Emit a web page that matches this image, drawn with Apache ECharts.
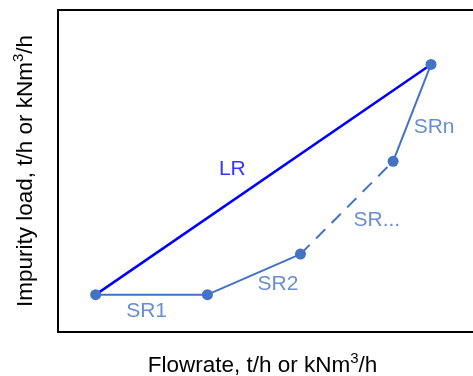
<!DOCTYPE html>
<html><head><meta charset="utf-8">
<script src="https://cdn.jsdelivr.net/npm/echarts@6/dist/echarts.min.js"></script>
<style>html,body{margin:0;padding:0;background:#fff;overflow:hidden}#c{width:473px;height:376px}</style>
</head><body><div id="c"></div>
<script>
// Stage points (flowrate, impurity load) in arbitrary units
const flowX = [8.95, 35.5, 57.6, 79.6, 88.6];
const loadY = [11.6, 11.6, 24.2, 53.0, 83.1];
// Segment labels: [name, fromIndex, toIndex]
const segLabels = ['SR1', 'SR2', 'SR...', 'SRn', 'LR'];
const segFrom = [0, 1, 2, 3, 0];
const segTo = [1, 2, 3, 4, 4];
const xTitle = '{n|Flowrate, t/h or kNm}{sup|3}{n|/h}';
const yTitle = '{n|Impurity load, t/h or kNm}{sup|3}{n|/h}';

const SR = '#4472C4', LRc = '#0000FF';
const FONT = 'Liberation Sans, Arial, sans-serif';
const pt = i => [flowX[i], loadY[i]];
const labelOffsets = [[-5, 17], [24, 10], [30, 12], [22, 14], [-31, -10]];
const labelColors = [SR, SR, SR, SR, LRc];

const chart = echarts.init(document.getElementById('c'));
const richT = {
  n: { fontSize: 22.5, lineHeight: 30, fontFamily: FONT, color: '#000' },
  sup: { fontSize: 15, lineHeight: 15, verticalAlign: 'top', fontFamily: FONT, color: '#000' }
};
chart.setOption({
  animation: false,
  grid: { left: 58, top: 10, width: 421, height: 322, show: true, borderColor: '#000', borderWidth: 2, backgroundColor: 'transparent', containLabel: false, outerBoundsMode: 'none' },
  xAxis: {
    type: 'value', min: 0, max: 100,
    axisLine: { show: false }, axisTick: { show: false }, axisLabel: { show: false }, splitLine: { show: false },
    name: xTitle, nameLocation: 'middle', nameGap: 19,
    nameTextStyle: { fontSize: 22.5, fontFamily: FONT, color: '#000', rich: richT, padding: [0, 12, 0, 0] }
  },
  yAxis: {
    type: 'value', min: 0, max: 100,
    axisLine: { show: false }, axisTick: { show: false }, axisLabel: { show: false }, splitLine: { show: false },
    name: yTitle, nameLocation: 'middle', nameGap: 17,
    nameTextStyle: { fontSize: 22.5, fontFamily: FONT, color: '#000', rich: richT }
  },
  series: [
    { type: 'line', data: [pt(0), pt(4)], showSymbol: false, lineStyle: { color: LRc, width: 2.5 }, z: 2 },
    { type: 'line', data: [pt(2), pt(3)], showSymbol: false, lineStyle: { color: SR, width: 2, type: [13, 9] }, z: 3 },
    { type: 'line', data: [pt(0), pt(1), pt(2)], symbol: 'circle', symbolSize: 11, itemStyle: { color: SR }, lineStyle: { color: SR, width: 2 }, z: 4 },
    { type: 'line', data: [pt(3), pt(4)], symbol: 'circle', symbolSize: 11, itemStyle: { color: SR }, lineStyle: { color: SR, width: 2 }, z: 4 },
    {
      type: 'scatter', symbolSize: 0, z: 5, silent: true,
      data: segLabels.map((n, k) => ({
        name: n,
        value: [(flowX[segFrom[k]] + flowX[segTo[k]]) / 2, (loadY[segFrom[k]] + loadY[segTo[k]]) / 2],
        label: { show: true, position: 'inside', formatter: n, offset: labelOffsets[k], color: labelColors[k], fontSize: 21, fontFamily: FONT }
      }))
    }
  ]
});
</script></body></html>
